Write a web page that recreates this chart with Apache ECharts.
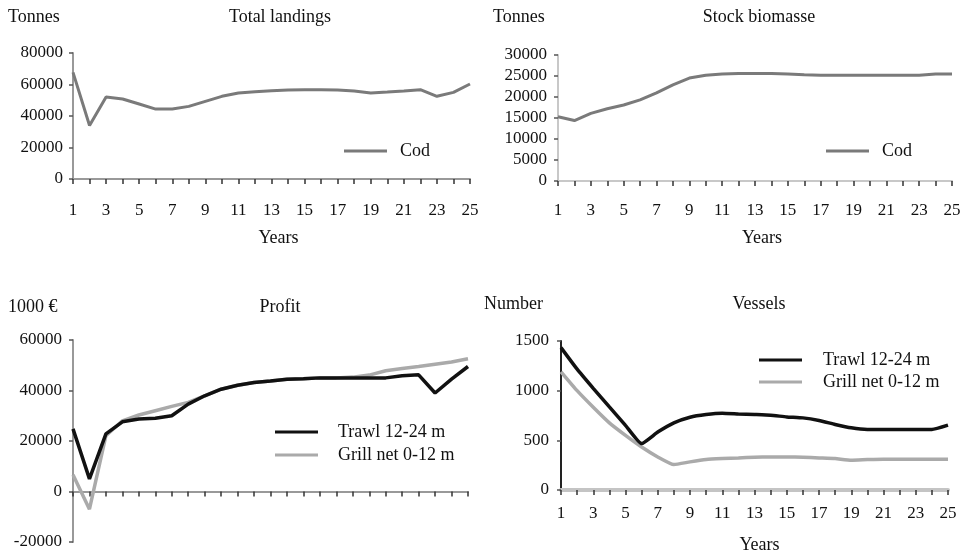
<!DOCTYPE html>
<html>
<head>
<meta charset="utf-8">
<script src="https://cdn.jsdelivr.net/npm/echarts@6/dist/echarts.min.js"></script>
<style>html,body{margin:0;padding:0;background:#fff}#c{width:966px;height:557px}</style>
</head>
<body>
<div id="c"></div>
<script>
var years = ['1','2','3','4','5','6','7','8','9','10','11','12','13','14','15','16','17','18','19','20','21','22','23','24','25'];
var landingsCod = [67700, 34000, 52000, 50800, 47600, 44400, 44400, 46100, 49300, 52500, 54600, 55400, 56100, 56500, 56700, 56700, 56500, 55900, 54600, 55200, 55900, 56700, 52500, 55000, 60300];
var biomassCod = [15300, 14400, 16100, 17200, 18100, 19300, 21000, 22900, 24500, 25200, 25500, 25600, 25600, 25600, 25500, 25300, 25200, 25200, 25200, 25200, 25200, 25200, 25200, 25500, 25500];
var profitTrawl = [24800, 5000, 22800, 27600, 28700, 29000, 30000, 34600, 37900, 40500, 42100, 43200, 43800, 44500, 44700, 45000, 45000, 45000, 45000, 45000, 45800, 46200, 39000, 44500, 49500];
var profitGrill = [6600, -7000, 22100, 28000, 30300, 32000, 33700, 35300, 37900, 40500, 42100, 43200, 43800, 44500, 44700, 45000, 45000, 45300, 46100, 47800, 48700, 49500, 50400, 51300, 52600];
var vesselsTrawl = [1433, 1216, 1023, 836, 650, 467, 583, 676, 733, 760, 773, 766, 760, 753, 736, 726, 700, 660, 626, 610, 610, 610, 610, 610, 653];
var vesselsGrill = [1190, 1000, 833, 676, 550, 433, 333, 256, 283, 306, 316, 323, 330, 333, 333, 330, 323, 316, 300, 306, 310, 310, 310, 310, 310];

var FONT = 'Liberation Serif';
var chart = echarts.init(document.getElementById('c'), null, {renderer: 'canvas'});

function plain(v) { return String(v); }
function xAx(gi, axisColor, axisWidth, margin, nameGap, namePad) {
  return {
    type: 'category', gridIndex: gi, data: years, boundaryGap: false,
    axisLine: {onZero: true, lineStyle: {color: axisColor, width: axisWidth}},
    axisTick: {show: true, interval: 0, length: 5, lineStyle: {color: '#333', width: 1.5}},
    axisLabel: {interval: 1, margin: margin, color: '#111', fontFamily: FONT, fontSize: 17},
    name: 'Years', nameLocation: 'middle', nameGap: nameGap,
    nameTextStyle: {color: '#111', fontFamily: FONT, fontSize: 18, padding: namePad},
    splitLine: {show: false}
  };
}
function yAx(gi, min, max, interval, axisColor, margin) {
  return {
    type: 'value', gridIndex: gi, min: min, max: max, interval: interval,
    axisLine: {show: true, onZero: false, lineStyle: {color: axisColor, width: 2}},
    axisTick: {show: true, length: 4, lineStyle: {color: '#555', width: 1.5}},
    axisLabel: {margin: margin, color: '#111', fontFamily: FONT, fontSize: 17, formatter: plain},
    splitLine: {show: false}
  };
}
function txt(x, y, s, align) {
  return {type: 'text', x: x, y: y, style: {text: s, font: '18px "' + FONT + '"', fill: '#111', align: align, verticalAlign: 'middle'}};
}
function line(name, gi, data, color, width, smooth) {
  return {
    type: 'line', name: name, xAxisIndex: gi, yAxisIndex: gi, data: data,
    showSymbol: false, smooth: smooth, lineStyle: {color: color, width: width},
    itemStyle: {color: color}, animation: false
  };
}
function legend(left, top, names, pad, gap) {
  return {
    left: left, top: top, orient: 'vertical', data: names, icon: 'rect',
    itemWidth: 43, itemHeight: 3, itemGap: gap,
    textStyle: {color: '#111', fontFamily: FONT, fontSize: 18, lineHeight: 18, padding: [0, 0, 0, pad]},
    selectedMode: false
  };
}

var option = {
  backgroundColor: '#fff',
  animation: false,
  grid: [
    {left: 73, top: 53, width: 397, height: 126, outerBoundsMode: 'none'},
    {left: 558, top: 55, width: 394, height: 126, outerBoundsMode: 'none'},
    {left: 73, top: 340, width: 395, height: 202, outerBoundsMode: 'none'},
    {left: 561, top: 341, width: 387, height: 149, outerBoundsMode: 'none'}
  ],
  xAxis: [
    xAx(0, '#999', 2, 23, 50, [0, 0, 0, 14]),
    xAx(1, '#c8c8c8', 2, 21, 48, [0, 0, 0, 14]),
    xAx(2, '#999', 2, 13, 49, [0, 24, 0, 0]),
    xAx(3, '#c4c4c4', 4, 15, 46, [0, 0, 0, 10])
  ],
  yAxis: [
    yAx(0, 0, 80000, 20000, '#999', 10),
    yAx(1, 0, 30000, 5000, '#c8c8c8', 11),
    yAx(2, -20000, 60000, 20000, '#999', 11),
    yAx(3, 0, 1500, 500, '#222', 12)
  ],
  legend: [
    legend(339, 137, ['Cod'], 8, 5),
    legend(821, 137, ['Cod '], 8, 5),
    legend(270, 418, ['Trawl 12-24 m', 'Grill net 0-12 m'], 15, 5),
    legend(754, 346, ['Trawl 12-24 m ', 'Grill net 0-12 m '], 16, 4)
  ],
  graphic: [
    txt(8, 17, 'Tonnes', 'left'),
    txt(280, 17, 'Total landings', 'center'),
    txt(493, 17, 'Tonnes', 'left'),
    txt(759, 17, 'Stock biomasse', 'center'),
    txt(8, 307, '1000 €', 'left'),
    txt(280, 307, 'Profit', 'center'),
    txt(484, 304, 'Number', 'left'),
    txt(759, 304, 'Vessels', 'center')
  ],
  series: [
    line('Cod', 0, landingsCod, '#7a7a7a', 3, false),
    line('Cod ', 1, biomassCod, '#7a7a7a', 3, false),
    line('Grill net 0-12 m', 2, profitGrill, '#aaaaaa', 3.5, false),
    line('Trawl 12-24 m', 2, profitTrawl, '#111111', 3.5, false),
    line('Grill net 0-12 m ', 3, vesselsGrill, '#aaaaaa', 3.5, 0.15),
    line('Trawl 12-24 m ', 3, vesselsTrawl, '#111111', 3.5, 0.15)
  ]
};
chart.setOption(option);
</script>
</body>
</html>
